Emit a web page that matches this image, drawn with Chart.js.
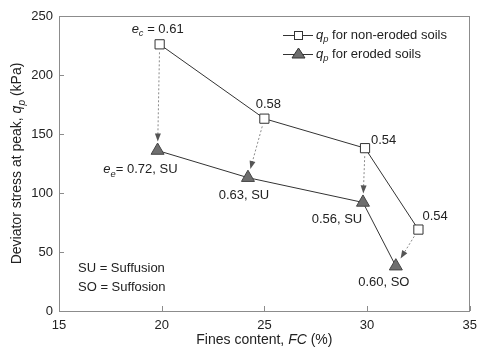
<!DOCTYPE html>
<html><head><meta charset="utf-8">
<script src="https://cdn.jsdelivr.net/npm/chart.js@4/dist/chart.umd.min.js"></script>
<style>html,body{margin:0;padding:0;background:#fff}canvas{display:block}</style>
</head><body>
<canvas id="c" width="484" height="349"></canvas>
<script>
// Data
const fcNonEroded = [19.9, 25.0, 29.9, 32.5];
const qpNonEroded = [226, 163, 138, 69];
const fcEroded = [19.8, 24.2, 29.8, 31.4];
const qpEroded = [136, 113, 92, 38];
const voidNonEroded = ['0.61', '0.58', '0.54', '0.54'];
const voidEroded = ['0.72', '0.63', '0.56', '0.60'];
const erosionType = ['SU', 'SU', 'SU', 'SO'];
const xTicks = [15, 20, 25, 30, 35];
const yTicks = [0, 50, 100, 150, 200, 250];

const FONT = '"Liberation Sans", Arial, sans-serif';
const TXT = '#222';

function runsWidth(ctx, runs, size) {
  let w = 0;
  for (const r of runs) {
    const s = r.sub ? size * 0.72 : size;
    ctx.font = (r.it ? 'italic ' : '') + s + 'px ' + FONT;
    w += ctx.measureText(r.t).width;
  }
  return w;
}
function drawRuns(ctx, runs, x, y, size, align) {
  let w = runsWidth(ctx, runs, size);
  let cx = align === 'center' ? x - w / 2 : (align === 'right' ? x - w : x);
  ctx.textBaseline = 'middle';
  ctx.textAlign = 'left';
  ctx.fillStyle = TXT;
  for (const r of runs) {
    const s = r.sub ? size * 0.72 : size;
    ctx.font = (r.it ? 'italic ' : '') + s + 'px ' + FONT;
    ctx.fillText(r.t, cx, r.sub ? y + size * 0.35 : y);
    cx += ctx.measureText(r.t).width;
  }
}

const annot = {
  id: 'annot',
  beforeDatasetsDraw(chart) {
    const ctx = chart.ctx, xs = chart.scales.x, ys = chart.scales.y;
    ctx.save();
    for (let i = 0; i < fcNonEroded.length; i++) {
      const x1 = xs.getPixelForValue(fcNonEroded[i]), y1 = ys.getPixelForValue(qpNonEroded[i]);
      const x2 = xs.getPixelForValue(fcEroded[i]), y2 = ys.getPixelForValue(qpEroded[i]);
      const dx = x2 - x1, dy = y2 - y1, L = Math.hypot(dx, dy);
      const ux = dx / L, uy = dy / L;
      const sx = x1 + ux * 8, sy = y1 + uy * 8;
      const ex = x2 - ux * 9, ey = y2 - uy * 9;
      ctx.strokeStyle = '#8a8a8a';
      ctx.lineWidth = 1;
      ctx.setLineDash([2, 2]);
      ctx.beginPath(); ctx.moveTo(sx, sy); ctx.lineTo(ex - ux * 6, ey - uy * 6); ctx.stroke();
      ctx.setLineDash([]);
      ctx.fillStyle = '#555';
      const px = -uy, py = ux;
      ctx.beginPath();
      ctx.moveTo(ex, ey);
      ctx.lineTo(ex - ux * 8 + px * 3, ey - uy * 8 + py * 3);
      ctx.lineTo(ex - ux * 8 - px * 3, ey - uy * 8 - py * 3);
      ctx.closePath(); ctx.fill();
    }
    ctx.restore();
  },
  afterDraw(chart) {
    const ctx = chart.ctx, xs = chart.scales.x, ys = chart.scales.y;
    const a = chart.chartArea;
    ctx.save();
    ctx.strokeStyle = '#8c8c8c';
    ctx.lineWidth = 1;
    ctx.strokeRect(Math.round(a.left) + 0.5, Math.round(a.top) + 0.5, Math.round(a.right - a.left) - 1, Math.round(a.bottom - a.top));
    ctx.beginPath();
    for (const v of xTicks) {
      const x = Math.round(xs.getPixelForValue(v)) + 0.5;
      ctx.moveTo(x, a.bottom); ctx.lineTo(x, a.bottom - 5);
    }
    for (const v of yTicks) {
      const y = Math.round(ys.getPixelForValue(v)) + 0.5;
      ctx.moveTo(a.left, y); ctx.lineTo(a.left + 5, y);
    }
    ctx.stroke();

    const S = 13;
    const px = (v) => xs.getPixelForValue(v), py = (v) => ys.getPixelForValue(v);
    drawRuns(ctx, [{t: 'e', it: 1}, {t: 'c', it: 1, sub: 1}, {t: ' = ' + voidNonEroded[0]}], px(fcNonEroded[0]) - 2, py(qpNonEroded[0]) - 15, S, 'center');
    drawRuns(ctx, [{t: voidNonEroded[1]}], px(fcNonEroded[1]) + 4, py(qpNonEroded[1]) - 14, S, 'center');
    drawRuns(ctx, [{t: voidNonEroded[2]}], px(fcNonEroded[2]) + 6, py(qpNonEroded[2]) - 8, S, 'left');
    drawRuns(ctx, [{t: voidNonEroded[3]}], px(fcNonEroded[3]) + 4, py(qpNonEroded[3]) - 13, S, 'left');
    drawRuns(ctx, [{t: 'e', it: 1}, {t: 'e', it: 1, sub: 1}, {t: '= ' + voidEroded[0] + ', ' + erosionType[0]}], px(fcEroded[0]) + 20, py(qpEroded[0]) + 19, S, 'right');
    drawRuns(ctx, [{t: voidEroded[1] + ', ' + erosionType[1]}], px(fcEroded[1]) - 4, py(qpEroded[1]) + 18, S, 'center');
    drawRuns(ctx, [{t: voidEroded[2] + ', ' + erosionType[2]}], px(fcEroded[2]) - 26, py(qpEroded[2]) + 17, S, 'center');
    drawRuns(ctx, [{t: voidEroded[3] + ', ' + erosionType[3]}], px(fcEroded[3]) - 12, py(qpEroded[3]) + 16, S, 'center');
    drawRuns(ctx, [{t: 'SU = Suffusion'}], 78, 268, S, 'left');
    drawRuns(ctx, [{t: 'SO = Suffosion'}], 78, 287, S, 'left');

    const legs = [
      {y: 35, style: 'rect', runs: [{t: 'q', it: 1}, {t: 'p', it: 1, sub: 1}, {t: ' for non-eroded soils'}]},
      {y: 54, style: 'tri', runs: [{t: 'q', it: 1}, {t: 'p', it: 1, sub: 1}, {t: ' for eroded soils'}]}
    ];
    for (const l of legs) {
      ctx.strokeStyle = '#333'; ctx.lineWidth = 1;
      ctx.beginPath(); ctx.moveTo(283, l.y + 0.5); ctx.lineTo(313, l.y + 0.5); ctx.stroke();
      if (l.style === 'rect') {
        ctx.fillStyle = '#fff';
        ctx.fillRect(294, l.y - 4, 9, 9);
        ctx.strokeRect(294.5, l.y - 4 + 0.5, 8, 8);
      } else {
        ctx.fillStyle = '#6e6e6e';
        ctx.beginPath(); ctx.moveTo(298.5, l.y - 6); ctx.lineTo(305, l.y + 4); ctx.lineTo(292, l.y + 4); ctx.closePath(); ctx.fill(); ctx.stroke();
      }
      drawRuns(ctx, l.runs, 316, l.y, S, 'left');
    }

    drawRuns(ctx, [{t: 'Fines content, '}, {t: 'FC', it: 1}, {t: ' (%)'}], (a.left + a.right) / 2, 340, 14, 'center');
    ctx.translate(17, (a.top + a.bottom) / 2);
    ctx.rotate(-Math.PI / 2);
    drawRuns(ctx, [{t: 'Deviator stress at peak, '}, {t: 'q', it: 1}, {t: 'p', it: 1, sub: 1}, {t: ' (kPa)'}], 0, 0, 14, 'center');
    ctx.restore();
  }
};

const toPts = (xsArr, ysArr) => xsArr.map((x, i) => ({x: x, y: ysArr[i]}));

new Chart(document.getElementById('c'), {
  type: 'scatter',
  data: {
    datasets: [
      {
        label: 'qp for non-eroded soils',
        data: toPts(fcNonEroded, qpNonEroded),
        showLine: true,
        borderColor: '#333',
        borderWidth: 1,
        pointStyle: 'rect',
        pointRadius: 6.5,
        pointHoverRadius: 6.5,
        pointBackgroundColor: '#fff',
        pointBorderColor: '#333',
        pointBorderWidth: 1,
        order: 1
      },
      {
        label: 'qp for eroded soils',
        data: toPts(fcEroded, qpEroded),
        showLine: true,
        borderColor: '#333',
        borderWidth: 1,
        pointStyle: 'triangle',
        pointRadius: 7.5,
        pointHoverRadius: 7.5,
        pointBackgroundColor: '#6e6e6e',
        pointBorderColor: '#444',
        pointBorderWidth: 1,
        order: 2
      }
    ]
  },
  options: {
    responsive: false,
    animation: false,
    events: [],
    layout: {padding: {top: 16, right: 5, left: 0, bottom: 0}},
    plugins: {legend: {display: false}, tooltip: {enabled: false}},
    scales: {
      x: {
        type: 'linear', min: 15, max: 35,
        afterBuildTicks: (s) => { s.ticks = xTicks.map(v => ({value: v})); },
        afterFit: (s) => { s.height = 38; },
        grid: {display: false, drawTicks: false},
        border: {display: false},
        ticks: {color: TXT, font: {family: FONT, size: 13}, padding: 7, maxRotation: 0}
      },
      y: {
        type: 'linear', min: 0, max: 250,
        afterBuildTicks: (s) => { s.ticks = yTicks.map(v => ({value: v})); },
        afterFit: (s) => { s.width = 59; },
        grid: {display: false, drawTicks: false},
        border: {display: false},
        ticks: {color: TXT, font: {family: FONT, size: 13}, padding: 6}
      }
    }
  },
  plugins: [annot]
});
</script>
</body></html>
